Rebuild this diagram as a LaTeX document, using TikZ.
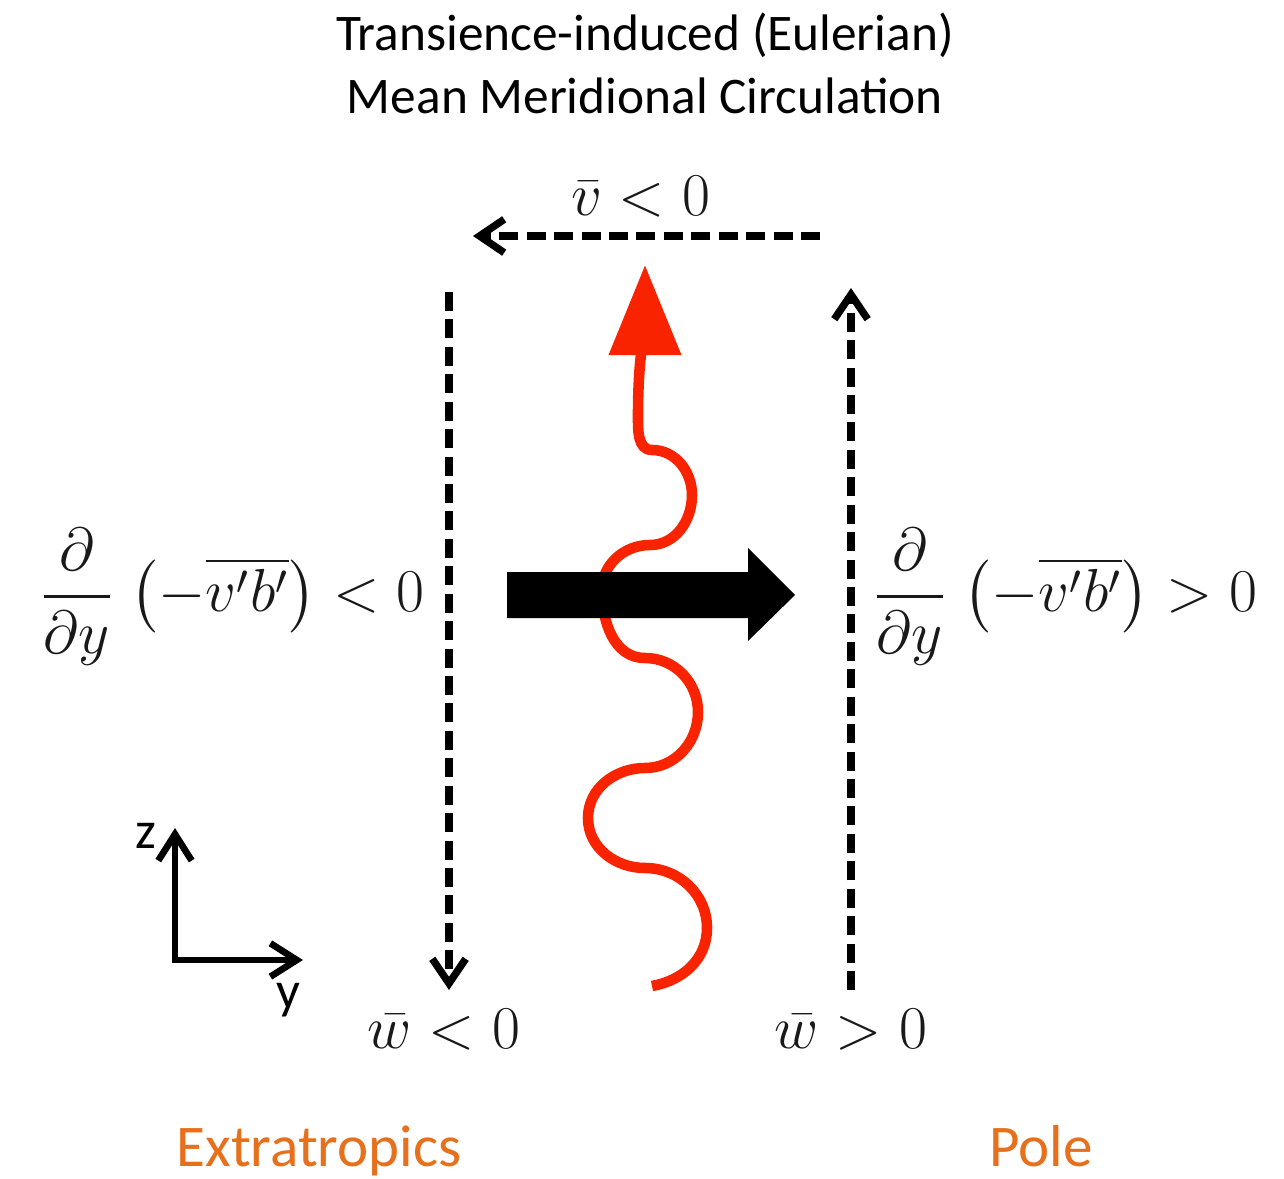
\documentclass[tikz,border=0pt]{standalone}
\usepackage{fontspec}
\usepackage{amsmath}
\newfontfamily\calibri{Carlito}
\usetikzlibrary{arrows.meta, positioning}
\definecolor{wavered}{RGB}{250,35,0}
\definecolor{regionorange}{RGB}{230,112,28}

\begin{document}
\begin{tikzpicture}[
    x=0.01cm, y=0.01cm,
    node distance=0.1cm,
    title/.style={font=\calibri\fontsize{14.6}{17.9}\selectfont, align=center},
    region/.style={font=\calibri\fontsize{16.8}{20}\selectfont, text=regionorange},
    axislabel/.style={font=\calibri\fontsize{15}{18}\selectfont},
    mathlabel/.style={font=\fontsize{16.5}{19}\selectfont, text=black!90, inner sep=2pt},
    meanflow/.style={line width=2.1pt, dash pattern=on 5.4pt off 2.4pt, -{Straight Barb[length=7pt,width=9.5pt]}},
    axis/.style={line width=1.9pt, line join=miter, {Straight Barb[length=7.5pt,width=9.5pt]}-{Straight Barb[length=7.5pt,width=9.5pt]}},
    wave/.style={wavered, line width=3pt, -{Triangle[length=0.9cm,width=0.7cm]}}
]
\useasboundingbox (0,0) rectangle (1284,-1179);

\node[title, anchor=north] (title) at (645,-1) {Transience-induced (Eulerian)\\Mean Meridional Circulation};

% mean meridional flow
\coordinate (vtail) at (820,-236);
\coordinate (vhead) at (473,-236);
\draw[meanflow] (vtail) -- node[mathlabel, above=0.08cm, xshift=-0.06cm] (vbar) {$\bar{v} < 0$} (vhead);

\coordinate (ltop) at (449,-292);
\coordinate (lbot) at (449,-990);
\coordinate (rbot) at (851,-990);
\coordinate (rtop) at (851,-288);
\draw[meanflow] (ltop) -- (lbot);
\draw[meanflow] (rbot) -- (rtop);
\node[mathlabel, below=0.12cm of lbot, xshift=-0.05cm] (wneg) {$\bar{w} < 0$};
\node[mathlabel, below=0.12cm of rbot] (wpos) {$\bar{w} > 0$};

% eddy flux divergence
\node[mathlabel] (lhs) at (232,-597) {$\displaystyle\frac{\partial}{\partial y}\;\bigl(-\overline{v'b'}\bigr) < 0$};
\node[mathlabel] (rhs) at (1065,-597) {$\displaystyle\frac{\partial}{\partial y}\;\bigl(-\overline{v'b'}\bigr) > 0$};

% wave activity
\coordinate (wstart) at (652,-986);
\coordinate (wtip) at (645,-265);
\draw[wave] (wstart) to[out=10,in=-90] (707,-928) to[out=90,in=0] (645,-868)
    to[out=180,in=-90] (588,-818) to[out=90,in=180] (645,-768)
    to[out=0,in=-90] (698,-712) to[out=90,in=0] (645,-658)
    to[out=180,in=-90] (602,-590) to[out=90,in=180] (650,-545)
    to[out=0,in=-90] (692,-495) to[out=90,in=0] (652,-450)
    to[out=180,in=-90] (638,-415) to[out=90,in=-90] (wtip);

% eddy-driven flow
\fill (507,-572) -- (748,-572) -- (748,-548) -- (795,-595) -- (748,-641) -- (748,-618) -- (507,-618) -- cycle;

% axes
\coordinate (zend) at (175,-828);
\coordinate (yend) at (303,-960);
\draw[axis] (zend) |- (yend);
\node[axislabel] (zlab) at (146,-836) {z};
\node[axislabel] (ylab) at (288,-1000) {y};

% regions
\node[region, anchor=base] (extra) at (319,-1166) {Extratropics};
\node[region, anchor=base] (pole) at (1041,-1166) {Pole};

\end{tikzpicture}
\end{document}
